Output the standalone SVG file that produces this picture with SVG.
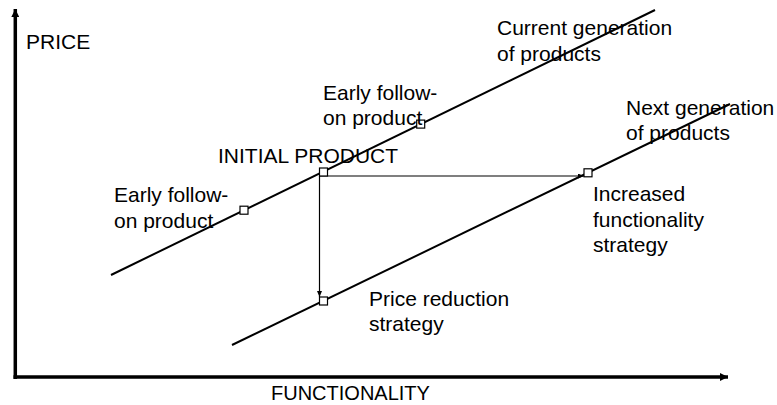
<svg xmlns="http://www.w3.org/2000/svg" width="777" height="405" viewBox="0 0 777 405">
  <style>
    text { font-family: "Liberation Sans", Arial, sans-serif; font-size: 21px; fill: #000; }
    .axis { stroke: #000; stroke-width: 3.5; fill: none; }
    .gen { stroke: #000; stroke-width: 2; fill: none; }
    .move { stroke: #000; stroke-width: 1.2; fill: none; }
    .pt { fill: #fff; stroke: #000; stroke-width: 1.2; }
  </style>
  <defs>
    <marker id="axisHead" viewBox="0 0 8 8" refX="8" refY="4" markerWidth="8" markerHeight="8" markerUnits="userSpaceOnUse" orient="auto">
      <path d="M0,0 L8,4 L0,8 Z" fill="#000"/>
    </marker>
    <marker id="moveHead" viewBox="0 0 6 5" refX="6" refY="2.5" markerWidth="6" markerHeight="5" markerUnits="userSpaceOnUse" orient="auto">
      <path d="M0,0 L6,2.5 L0,5 Z" fill="#000"/>
    </marker>
  </defs>

  <!-- axes -->
  <g id="axes">
    <line class="axis" x1="15.3" y1="379" x2="15.3" y2="9" marker-end="url(#axisHead)"/>
    <line class="axis" x1="13.5" y1="377" x2="728" y2="377" marker-end="url(#axisHead)"/>
    <text x="26" y="49">PRICE</text>
    <text x="271" y="400" style="font-size:20px">FUNCTIONALITY</text>
  </g>

  <!-- product generation lines -->
  <g id="current-generation">
    <line class="gen" x1="111" y1="275" x2="655" y2="10"/>
    <text x="497" y="35">Current generation</text>
    <text x="497" y="61">of products</text>
  </g>
  <g id="next-generation">
    <line class="gen" x1="232" y1="345" x2="730" y2="104"/>
    <text x="626" y="115">Next generation</text>
    <text x="626" y="140">of products</text>
  </g>

  <!-- strategy moves -->
  <g id="connectors">
    <line class="move" x1="319.5" y1="176" x2="584" y2="176" marker-end="url(#moveHead)"/>
    <line class="move" x1="319.5" y1="176" x2="319.5" y2="297" marker-end="url(#moveHead)"/>
  </g>

  <!-- products on the lines -->
  <g id="early-follow-on-low">
    <rect class="pt" x="240" y="206.2" width="8" height="8"/>
    <text x="114" y="202">Early follow-</text>
    <text x="114" y="228">on product</text>
  </g>
  <g id="initial-product">
    <rect class="pt" x="319.5" y="168" width="8" height="8"/>
    <text x="218" y="163">INITIAL PRODUCT</text>
  </g>
  <g id="early-follow-on-high">
    <rect class="pt" x="416.7" y="120.1" width="8" height="8"/>
    <text x="323" y="100">Early follow-</text>
    <text x="323" y="125">on product</text>
  </g>
  <g id="price-reduction">
    <rect class="pt" x="319.5" y="297" width="8" height="8"/>
    <text x="369" y="306">Price reduction</text>
    <text x="369" y="331">strategy</text>
  </g>
  <g id="increased-functionality">
    <rect class="pt" x="584" y="168.8" width="8" height="8"/>
    <text x="593" y="201">Increased</text>
    <text x="593" y="227">functionality</text>
    <text x="593" y="252">strategy</text>
  </g>
</svg>
